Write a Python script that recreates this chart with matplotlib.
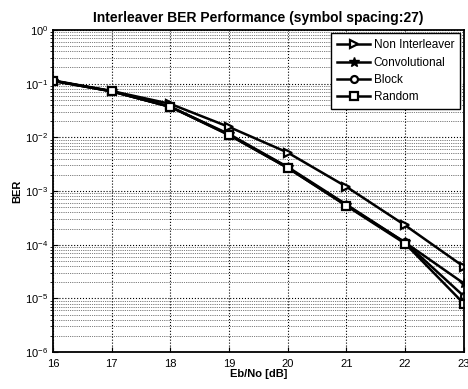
import matplotlib
matplotlib.use("Agg")
import matplotlib.pyplot as plt

plt.rcParams['font.family'] = ['Liberation Sans', 'DejaVu Sans']

ebno = [16, 17, 18, 19, 20, 21, 22, 23]
non_interleaver = [0.115, 0.073, 0.042, 0.0156, 0.0052, 0.0012, 2.3e-4, 3.9e-5]
convolutional = [0.113, 0.072, 0.037, 0.0115, 0.0028, 5.6e-4, 1.1e-4, 1.9e-5]
block = [0.113, 0.072, 0.037, 0.0112, 0.0027, 5.4e-4, 1.1e-4, 1.1e-5]
random_ = [0.113, 0.072, 0.037, 0.0110, 0.0027, 5.3e-4, 1.05e-4, 8e-6]

fig = plt.figure(figsize=(4.68, 3.89), dpi=100)
ax = fig.add_axes([0.113, 0.095, 0.878, 0.828])

ax.semilogy(ebno, non_interleaver, 'k-', marker='>', lw=1.8, ms=6, mfc='white', mew=1.6, label='Non Interleaver')
ax.semilogy(ebno, convolutional, 'k-', marker='*', lw=1.8, ms=7, label='Convolutional')
ax.semilogy(ebno, block, 'k-', marker='o', lw=1.8, ms=5, mfc='white', mew=1.6, label='Block')
ax.semilogy(ebno, random_, 'k-', marker='s', lw=1.8, ms=6, mfc='white', mew=1.6, label='Random')

ax.set_xlim(16, 23)
ax.set_ylim(1e-6, 1)
ax.grid(True, which='major', color='black', linestyle=':', lw=0.8)
ax.grid(True, which='minor', color='black', linestyle=':', lw=0.5)
for s in ax.spines.values():
    s.set_linewidth(1.3)

ax.set_title('Interleaver BER Performance (symbol spacing:27)', fontsize=10, fontweight='bold', pad=6)
ax.set_xlabel('Eb/No [dB]', fontsize=8, fontweight='bold', labelpad=0)
ax.set_ylabel('BER', fontsize=8, fontweight='bold', labelpad=2)
ax.tick_params(labelsize=8, direction='in')
ax.tick_params(axis='x', pad=5)

leg = ax.legend(loc='upper right', fontsize=8.5, fancybox=False, framealpha=1,
                edgecolor='black', handlelength=2.8, borderpad=0.5, labelspacing=0.45,
                handletextpad=0.3, borderaxespad=0.3)
leg.get_frame().set_linewidth(1.0)

fig.savefig('out.png', dpi=100)
